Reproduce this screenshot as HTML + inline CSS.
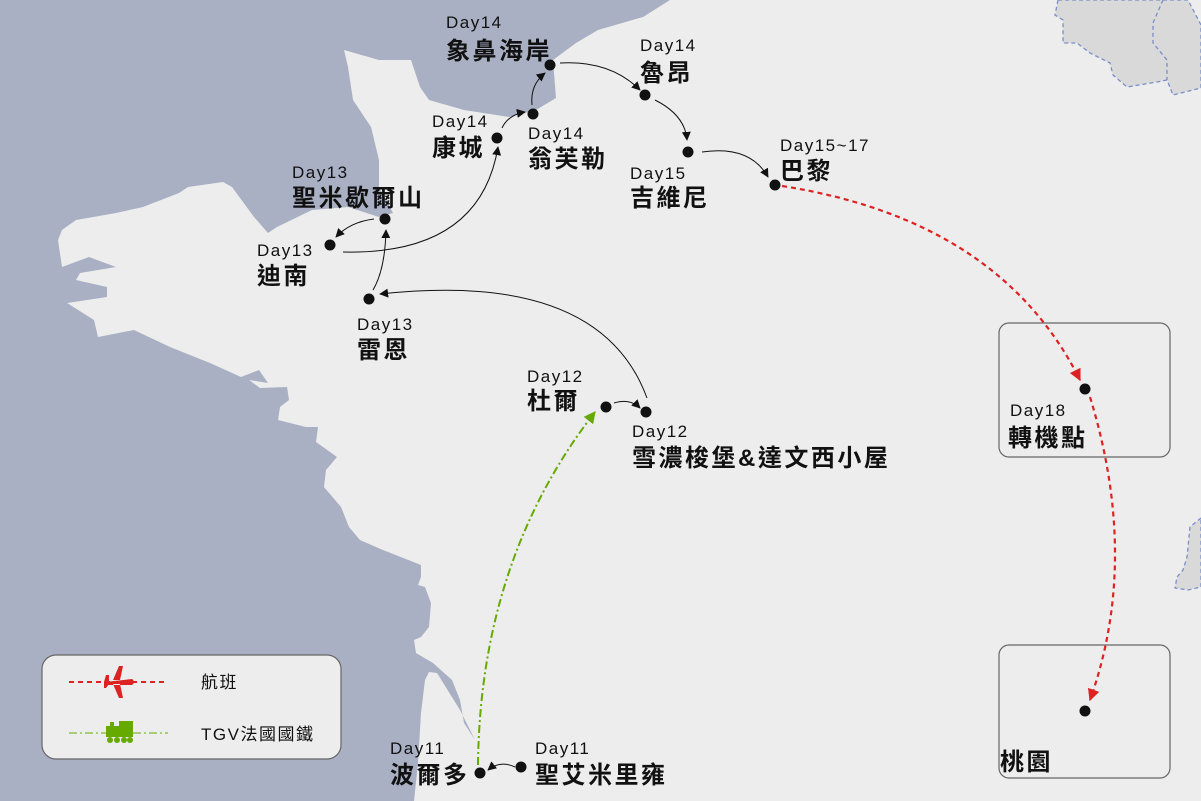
<!DOCTYPE html>
<html><head><meta charset="utf-8"><style>
body{margin:0;width:1201px;height:801px;overflow:hidden;background:#ededed}
svg{position:absolute;left:0;top:0}
text{font-family:"Liberation Sans","Noto Sans CJK TC",sans-serif;fill:#111}
.d{font-size:17px;letter-spacing:1.5px}
.n{font-size:24px;font-weight:bold;letter-spacing:2.5px}
</style></head><body>
<svg width="1201" height="801" viewBox="0 0 1201 801">
<defs>
<marker id="a" viewBox="0 0 10 10" refX="9" refY="5" markerWidth="9" markerHeight="9" orient="auto" markerUnits="userSpaceOnUse"><path d="M0,0 L10,5 L0,10 z" fill="#111"/></marker>
<marker id="r" viewBox="0 0 10 10" refX="9" refY="5" markerWidth="12" markerHeight="12" orient="auto" markerUnits="userSpaceOnUse"><path d="M0,0 L10,5 L0,10 z" fill="#d22"/></marker>
<marker id="g" viewBox="0 0 10 10" refX="9" refY="5" markerWidth="12" markerHeight="12" orient="auto" markerUnits="userSpaceOnUse"><path d="M0,0 L10,5 L0,10 z" fill="#6a0"/></marker>
</defs>
<polygon fill="#a9b0c3" points="0,0 670,0 643,17 598,30 576,43 553,60 556,98 536,110 509,117 464,110 429,100 420,87 411,60 379,60 344,50 348,67 353,100 371,127 379,160 379,187 393,213 379,217 348,207 312,210 277,227 268,233 254,217 232,187 223,182 188,187 179,193 143,207 116,213 76,220 62,230 58,240 62,267 89,257 116,267 80,273 76,280 107,287 107,297 67,303 94,320 98,337 134,330 170,347 210,363 241,377 259,370 268,383 249,380 260,388 287,387 289,400 280,407 278,420 306,427 318,427 316,442 337,457 326,470 324,487 341,507 349,527 360,540 383,550 421,565 421,577 418,585 425,587 431,603 429,627 421,637 414,640 416,653 433,663 452,680 460,700 464,723 475,740 460,710 437,673 429,672 425,680 421,713 418,763 414,801 0,801"/>
<g fill="#d9d9d9" stroke="#7a8fc8" stroke-width="1.3" stroke-dasharray="4,3">
<polygon points="1058,0 1055,15 1063,20 1063,43 1077,43 1090,53 1110,63 1113,75 1127,87 1157,82 1167,80 1173,95 1201,88 1201,25 1188,0"/>
<polyline fill="none" points="1163,0 1153,23 1153,43 1167,60 1167,80"/>
<polygon points="1201,518 1190,527 1187,557 1183,570 1177,577 1175,588 1188,590 1201,587"/>
</g>
<g fill="none" stroke="#666" stroke-width="1.2">
<rect x="999" y="323" width="171" height="134" rx="10"/>
<rect x="999" y="645" width="171" height="133" rx="10"/>
<rect x="42" y="655" width="299" height="104" rx="14" fill="#ededed"/>
</g>
<g fill="none" stroke="#111" stroke-width="1" marker-end="url(#a)">
<path d="M560,63 Q610,60 640,90"/>
<path d="M655,100 Q685,115 687,140"/>
<path d="M702,152 Q750,145 768,177"/>
<path d="M532,105 Q530,85 545,73"/>
<path d="M502,128 Q508,115 525,112"/>
<path d="M343,252 Q480,255 498,147"/>
<path d="M374,219 Q350,222 336,237"/>
<path d="M373,290 Q385,270 386,230"/>
<path d="M647,398 Q600,270 380,294"/>
<path d="M614,403 Q630,398 640,408"/>
<path d="M515,767 Q500,760 488,770"/>
</g>
<path d="M478,765 Q480,560 595,412" fill="none" stroke="#6a0" stroke-width="2" stroke-dasharray="8,3,2,3" marker-end="url(#g)"/>
<g fill="none" stroke="#d22" stroke-width="2.2" stroke-dasharray="5,4" marker-end="url(#r)">
<path d="M782,186 Q1000,220 1080,380"/>
<path d="M1090,397 Q1140,560 1090,700"/>
</g>
<g fill="#111">
<circle cx="550" cy="65" r="5.5"/><circle cx="533" cy="114" r="5.5"/><circle cx="497" cy="138" r="5.5"/>
<circle cx="645" cy="95" r="5.5"/><circle cx="688" cy="152" r="5.5"/><circle cx="775" cy="185" r="5.5"/>
<circle cx="385" cy="219" r="5.5"/><circle cx="330" cy="245" r="5.5"/><circle cx="369" cy="299" r="5.5"/>
<circle cx="606" cy="407" r="5.5"/><circle cx="646" cy="412" r="5.5"/><circle cx="1085" cy="389" r="5.5"/>
<circle cx="1085" cy="711" r="5.5"/><circle cx="480" cy="773" r="5.5"/><circle cx="521" cy="767" r="5.5"/>
</g>
<text class="d" x="446" y="28">Day14</text><text class="n" x="446" y="59">象鼻海岸</text>
<text class="d" x="640" y="51">Day14</text><text class="n" x="640" y="81">魯昂</text>
<text class="d" x="432" y="127">Day14</text><text class="n" x="432" y="156">康城</text>
<text class="d" x="528" y="139">Day14</text><text class="n" x="528" y="167">翁芙勒</text>
<text class="d" x="630" y="179">Day15</text><text class="n" x="630" y="206">吉維尼</text>
<text class="d" x="780" y="151">Day15~17</text><text class="n" x="780" y="179">巴黎</text>
<text class="d" x="292" y="178">Day13</text><text class="n" x="292" y="206">聖米歇爾山</text>
<text class="d" x="257" y="256">Day13</text><text class="n" x="257" y="284">迪南</text>
<text class="d" x="357" y="330">Day13</text><text class="n" x="357" y="358">雷恩</text>
<text class="d" x="527" y="382">Day12</text><text class="n" x="527" y="409">杜爾</text>
<text class="d" x="632" y="437">Day12</text><text class="n" x="632" y="466">雪濃梭堡&amp;達文西小屋</text>
<text class="d" x="1010" y="416">Day18</text><text class="n" x="1008" y="446">轉機點</text>
<text class="n" x="1000" y="770">桃園</text>
<text class="d" x="390" y="754">Day11</text><text class="n" x="390" y="783">波爾多</text>
<text class="d" x="535" y="754">Day11</text><text class="n" x="535" y="783">聖艾米里雍</text>
<line x1="69" y1="682" x2="165" y2="682" stroke="#d22" stroke-width="2" stroke-dasharray="5,4"/>
<path d="M105,682 L132,679 Q136,682 132,685 L105,685 Z M113,680 L119,666 L123,666 L120,680 Z M113,684 L119,698 L123,698 L120,684 Z M104,682 L106,675 L109,675 L109,684 L106,688 L104,688Z" fill="#d22"/>
<line x1="69" y1="733" x2="168" y2="733" stroke="#6a0" stroke-width="1" stroke-dasharray="8,3,2,3"/>
<path d="M106,726 L110,726 L110,722 L114,722 L114,726 L119,726 L119,721 L133,721 L133,737 L106,737 Z" fill="#6a0"/>
<g fill="#6a0"><circle cx="110" cy="740" r="3"/><circle cx="117" cy="740" r="3"/><circle cx="124" cy="740" r="3"/><circle cx="130" cy="740" r="3"/></g>
<text x="201" y="688" style="font-size:17px;letter-spacing:1.5px">航班</text>
<text x="201" y="740" style="font-size:17px;letter-spacing:1.5px">TGV法國國鐵</text>
</svg>
</body></html>
